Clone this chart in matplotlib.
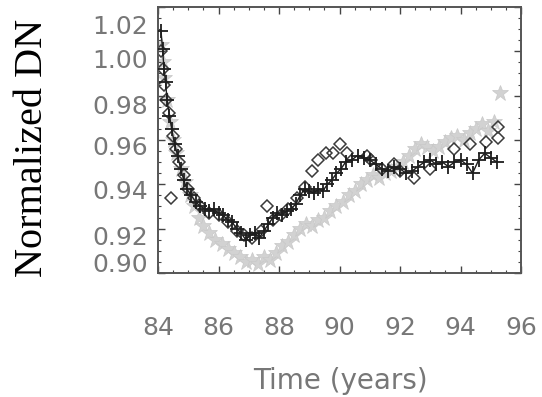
import matplotlib
matplotlib.use("Agg")
import matplotlib.pyplot as plt
from matplotlib.ticker import MultipleLocator
from matplotlib.transforms import ScaledTranslation

# ---- data ----
plus_years = [84.10, 84.15, 84.20, 84.25, 84.30, 84.38, 84.45, 84.55, 84.65, 84.75,
              84.85, 84.95, 85.10, 85.25, 85.40, 85.55, 85.70, 85.85, 86.00, 86.15,
              86.30, 86.45, 86.60, 86.75, 86.90, 87.05, 87.20, 87.35, 87.50, 87.65,
              87.80, 87.95, 88.10, 88.25, 88.40, 88.55, 88.70, 88.85, 89.00, 89.15,
              89.30, 89.45, 89.60, 89.75, 89.90, 90.05, 90.20, 90.40, 90.60, 90.80,
              91.00, 91.20, 91.40, 91.60, 91.80, 92.00, 92.20, 92.40, 92.60, 92.80,
              93.00, 93.20, 93.40, 93.60, 93.80, 94.00, 94.20, 94.40, 94.60, 94.80,
              95.00, 95.20]
plus_values = [1.009, 1.001, 0.992, 0.986, 0.978, 0.971, 0.965, 0.958, 0.953, 0.947,
               0.942, 0.938, 0.935, 0.932, 0.930, 0.929, 0.928, 0.929, 0.927, 0.926,
               0.924, 0.923, 0.920, 0.918, 0.915, 0.917, 0.918, 0.916, 0.919, 0.922,
               0.925, 0.927, 0.926, 0.928, 0.929, 0.931, 0.935, 0.938, 0.937, 0.936,
               0.938, 0.937, 0.940, 0.942, 0.945, 0.947, 0.950, 0.951, 0.953, 0.952,
               0.951, 0.949, 0.947, 0.946, 0.948, 0.947, 0.945, 0.946, 0.948, 0.950,
               0.951, 0.949, 0.950, 0.948, 0.950, 0.951, 0.949, 0.945, 0.951, 0.954,
               0.952, 0.950]

diamond_years = [84.10, 84.15, 84.20, 84.28, 84.35, 84.42, 84.50, 84.60, 84.70, 84.85,
                 85.00, 85.20, 85.40, 85.70, 86.00, 86.30, 86.60, 86.85, 87.10, 87.40,
                 87.60, 87.80, 88.05, 88.30, 88.60, 88.85, 89.10, 89.30, 89.55, 89.80,
                 90.00, 90.25, 90.90, 91.05, 91.40, 91.80, 92.00, 92.45, 93.00, 93.80,
                 94.30, 94.85, 95.25, 95.25]
diamond_values = [1.000, 0.992, 0.985, 0.978, 0.972, 0.934, 0.962, 0.956, 0.950, 0.944,
                  0.938, 0.934, 0.930, 0.927, 0.926, 0.923, 0.919, 0.917, 0.916, 0.919,
                  0.930, 0.924, 0.926, 0.929, 0.934, 0.939, 0.946, 0.951, 0.954, 0.954,
                  0.958, 0.954, 0.953, 0.951, 0.947, 0.949, 0.946, 0.943, 0.947, 0.956,
                  0.958, 0.959, 0.961, 0.966]

star_years = [84.10, 84.15, 84.20, 84.30, 84.40, 84.50, 84.60, 84.75, 84.90, 85.05,
              85.20, 85.35, 85.50, 85.70, 85.90, 86.10, 86.30, 86.50, 86.70, 86.90,
              87.10, 87.30, 87.50, 87.70, 87.90, 88.10, 88.30, 88.50, 88.70, 88.90,
              89.10, 89.30, 89.50, 89.70, 89.90, 90.10, 90.30, 90.50, 90.70, 90.90,
              91.10, 91.30, 91.50, 91.70, 91.90, 92.10, 92.30, 92.50, 92.70, 92.90,
              93.10, 93.30, 93.50, 93.70, 93.90, 94.10, 94.30, 94.50, 94.70, 94.90,
              95.10, 95.30]
star_values = [1.003, 0.995, 0.988, 0.978, 0.968, 0.960, 0.954, 0.947, 0.941, 0.935,
               0.930, 0.925, 0.921, 0.918, 0.915, 0.913, 0.911, 0.909, 0.907, 0.905,
               0.906, 0.904, 0.907, 0.906, 0.909, 0.912, 0.914, 0.917, 0.920, 0.922,
               0.921, 0.924, 0.925, 0.928, 0.930, 0.932, 0.935, 0.937, 0.940, 0.942,
               0.944, 0.943, 0.945, 0.946, 0.948, 0.950, 0.953, 0.956, 0.958, 0.957,
               0.955, 0.957, 0.959, 0.961, 0.962, 0.960, 0.963, 0.965, 0.967, 0.964,
               0.968, 0.981]

x_ticks = [84, 86, 88, 90, 92, 94, 96]
y_ticks = [0.90, 0.92, 0.94, 0.96, 0.98, 1.00, 1.02]
x_label = "Time (years)"
y_label = "Normalized DN"

# ---- figure ----
fig = plt.figure(figsize=(5.42, 3.97), dpi=100)
ax = fig.add_axes([158 / 542, 1 - 273 / 397, (521 - 158) / 542, (273 - 7) / 397])

ax.plot(star_years, star_values, linestyle="none", marker="*", markersize=12,
        color="#d2d2d2", markeredgecolor="#c8c8c8", markeredgewidth=0.5, zorder=1)
ax.plot(diamond_years, diamond_values, linestyle="none", marker="D", markersize=6.5,
        markerfacecolor="none", markeredgecolor="#3a3a3a", markeredgewidth=1.1, zorder=2)
ax.plot(plus_years, plus_values, linestyle="-", linewidth=1.0, color="#1e1e1e",
        marker="+", markersize=10, markeredgewidth=1.3, zorder=3)

ax.set_xlim(84, 96)
ax.set_ylim(0.90, 1.02)
ax.set_xticks(x_ticks)
ax.set_yticks(y_ticks)
ax.set_xticklabels([str(t) for t in x_ticks])
ax.set_yticklabels([f"{t:.2f}" for t in y_ticks])
ax.xaxis.set_minor_locator(MultipleLocator(0.5))
ax.yaxis.set_minor_locator(MultipleLocator(0.005))

ax.tick_params(which="both", direction="in", top=True, right=True, color="#444444")
ax.tick_params(which="major", length=5, width=1.0)
ax.tick_params(which="minor", length=2.5, width=0.8)
ax.tick_params(axis="x", which="major", pad=31, labelsize=18, labelcolor="#777777")
ax.tick_params(axis="y", which="major", pad=7, labelsize=18, labelcolor="#777777")

# the reference draws the y labels slightly displaced from their ticks (pixels, down = +)
label_shift_px = [-11, 7, 5, 5, 9, 7, 18]
for lab, d in zip(ax.get_yticklabels(), label_shift_px):
    lab.set_transform(lab.get_transform() + ScaledTranslation(0, -d / 100, fig.dpi_scale_trans))

for s in ax.spines.values():
    s.set_linewidth(1.4)
    s.set_color("#555555")

fig.text(340 / 542, 1 - 381 / 397, x_label, ha="center", va="center",
         fontsize=20, color="#777777")
fig.text(33 / 542, 1 - 148 / 397, y_label, ha="center", va="center",
         rotation=90, fontsize=29, family="Liberation Serif", color="black")

fig.savefig("out.png", dpi=100)
